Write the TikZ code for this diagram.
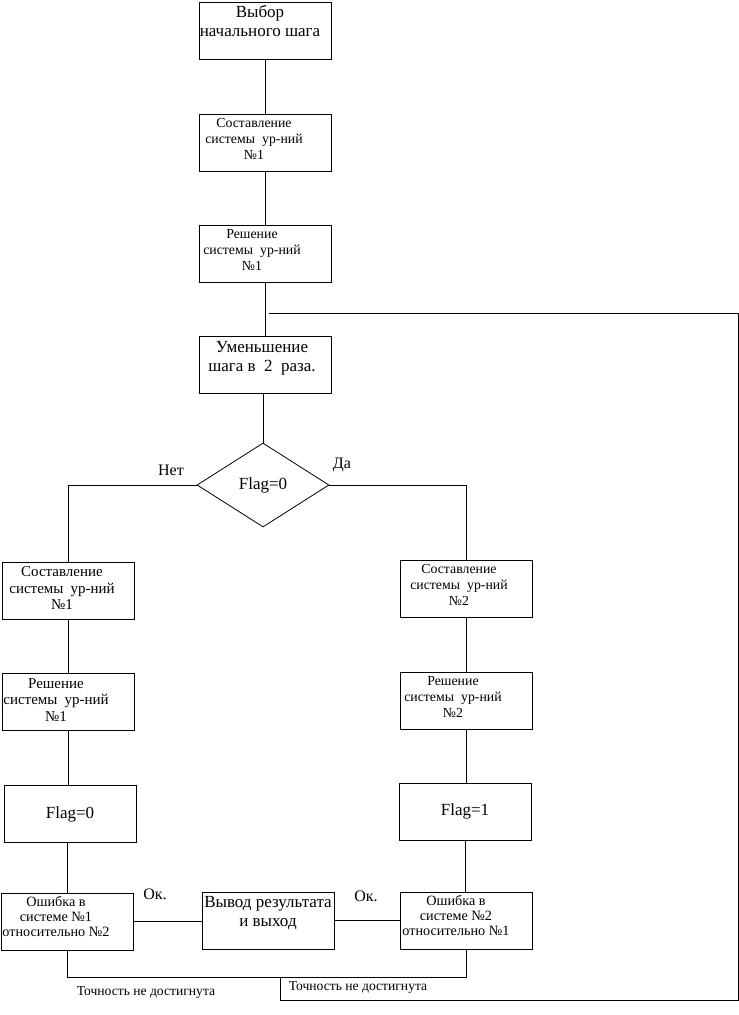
\documentclass[tikz,border=0pt]{standalone}
\usepackage{fontspec}
\setmainfont{Liberation Serif}
\usetikzlibrary{shapes.geometric, positioning}

\newcommand{\gap}{\hspace{7pt}}

\tikzset{
  box/.style={draw, rectangle, minimum width=132pt, minimum height=57pt, inner sep=0pt},
  txt/.style={align=center, inner sep=0pt},
  flagdiamond/.style={draw, diamond, minimum width=132pt, minimum height=84pt, inner sep=0pt},
  bigfont/.style={font=\fontsize{17}{19}\selectfont},
  midfont/.style={font=\fontsize{13.8}{16}\selectfont},
  sidefont/.style={font=\fontsize{15}{16.5}\selectfont},
  errfont/.style={font=\fontsize{14.2}{15}\selectfont},
  lblfont/.style={font=\fontsize{16}{16}\selectfont},
  notefont/.style={font=\fontsize{13.6}{15}\selectfont}
}

\begin{document}
\begin{tikzpicture}[x=1pt, y=-1pt, line width=0.8pt]
    \useasboundingbox (0,0) rectangle (739,1015);

    % Центральный столбец
    \node[box] (b1) at (265,30.5) {};
    \node[box] (b2) at (265,142.5) {};
    \node[box] (b3) at (265,254) {};
    \node[box] (b4) at (265,364.5) {};
    \node[flagdiamond, bigfont] (d) at (263,485) {Flag=0};

    \node[txt, bigfont, below=3pt of b1.north, xshift=-5pt] (t1) {Выбор\\начального шага};
    \node[txt, midfont, below=4pt of b2.north, xshift=-11pt] (t2) {Составление\\системы\gap ур-ний\\№1};
    \node[txt, midfont, below=4pt of b3.north, xshift=-13pt] (t3) {Решение\\системы\gap ур-ний\\№1};
    \node[txt, bigfont, below=5pt of b4.north, xshift=-3pt] (t4) {Уменьшение\\шага~в~~2~~раза.};

    % Левая ветвь
    \node[box] (l1) at (68,590.5) {};
    \node[box] (l2) at (68,702) {};
    \node[box, bigfont] (l3) at (70,814) {Flag=0};
    \node[box] (l4) at (67,921.5) {};

    \node[txt, sidefont, below=5pt of l1.north, xshift=-6pt] (tl1) {Составление\\системы\gap ур-ний\\№1};
    \node[txt, sidefont, below=5pt of l2.north, xshift=-12pt] (tl2) {Решение\\системы\gap ур-ний\\№1};
    \node[txt, errfont, below=3pt of l4.north, xshift=-11pt] (tl4) {Ошибка в\\системе №1\\относительно №2};

    % Правая ветвь
    \node[box] (r1) at (466,589) {};
    \node[box] (r2) at (466,700.5) {};
    \node[box, bigfont] (r3) at (465,811.5) {Flag=1};
    \node[box] (r4) at (466,920.5) {};

    \node[txt, midfont, below=4pt of r1.north, xshift=-7pt] (tr1) {Составление\\системы\gap ур-ний\\№2};
    \node[txt, midfont, below=4pt of r2.north, xshift=-13pt] (tr2) {Решение\\системы\gap ур-ний\\№2};
    \node[txt, errfont, below=3pt of r4.north, xshift=-10pt] (tr4) {Ошибка в\\системе №2\\относительно №1};

    % Выход
    \node[box] (c) at (268,920.5) {};
    \node[txt, bigfont, below=4pt of c.north] (tc) {Вывод результата\\и выход};

    % Подписи
    \node[lblfont] (no) at (171,470) {Нет};
    \node[lblfont] (yes) at (342,465) {Да};
    \node[lblfont] (ok1) at (155,894) {Ок.};
    \node[lblfont] (ok2) at (366,896) {Ок.};
    \node[notefont] (n1) at (146,993) {Точность не достигнута};
    \node[notefont] (n2) at (358,988) {Точность не достигнута};

    \coordinate (fb) at (269,313);
    \coordinate (jl) at (280,977);
    \coordinate (jr) at (738,1000);

    % Соединения
    \draw (b1.south) -- (b1.south |- b2.north);
    \draw (b2.south) -- (b2.south |- b3.north);
    \draw (b3.south) -- (b3.south |- b4.north);
    \draw (d.north |- b4.south) -- (d.north);
    \draw (d.west) -| (l1.north);
    \draw (d.east) -| (r1.north);

    \draw (l1.south) -- (l2.north);
    \draw (l2.south) -- (l2.south |- l3.north);
    \draw (l4.north |- l3.south) -- (l4.north);
    \draw (r1.south) -- (r2.north);
    \draw (r2.south) -- (r2.south |- r3.north);
    \draw (r3.south) -- (r3.south |- r4.north);

    \draw (l4.east) -- (l4.east -| c.west);
    \draw (c.east) -- (c.east -| r4.west);

    \draw (l4.south) |- (jl) -| (r4.south);
    \draw (jl) |- (jr) |- (fb);
\end{tikzpicture}
\end{document}
